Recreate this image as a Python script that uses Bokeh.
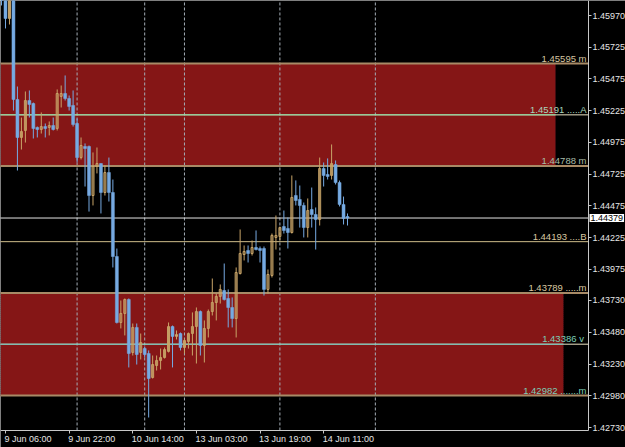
import numpy as np
from bokeh.plotting import figure
from bokeh.models import (ColumnDataSource, Range1d, FixedTicker, PrintfTickFormatter,
                          BoxAnnotation, Label, LinearAxis)
from bokeh.core.properties import value
from bokeh.embed import file_html
from bokeh.resources import INLINE

# ---------------- data (H1 candles) ----------------
bar = list(range(-1, 87))
open_ = [1.46327, 1.46154, 1.45949, 1.46170, 1.45312, 1.45013, 1.45068, 1.45304, 1.45280, 1.45092,
         1.45076, 1.45099, 1.45092, 1.45107, 1.45084, 1.45336, 1.45359, 1.45320, 1.45265, 1.45123,
         1.44855, 1.44942, 1.44942, 1.44556, 1.44785, 1.44808, 1.44580, 1.44737, 1.44580, 1.44076,
         1.43557, 1.43628, 1.43738, 1.43321, 1.43518, 1.43321, 1.43352, 1.43313, 1.43124, 1.43218,
         1.43258, 1.43281, 1.43329, 1.43525, 1.43447, 1.43470, 1.43360, 1.43407, 1.43470, 1.43525,
         1.43643, 1.43376, 1.43510, 1.43643, 1.43714, 1.43762, 1.43809, 1.43746, 1.43675, 1.43588,
         1.43942, 1.44092, 1.44124, 1.44100, 1.44147, 1.44139, 1.44139, 1.43817, 1.43927, 1.44226,
         1.44234, 1.44312, 1.44297, 1.44265, 1.44556, 1.44525, 1.44478, 1.44304, 1.44446, 1.44407,
         1.44367, 1.44769, 1.44722, 1.44714, 1.44800, 1.44658, 1.44486, 1.44391]
high = [1.46406, 1.46185, 1.46209, 1.46201, 1.45414, 1.45170, 1.45375, 1.45383, 1.45288, 1.45099,
        1.45210, 1.45123, 1.45139, 1.45170, 1.45391, 1.45422, 1.45501, 1.45343, 1.45383, 1.45162,
        1.45013, 1.44966, 1.44950, 1.44895, 1.44934, 1.44808, 1.44792, 1.44855, 1.44682, 1.44139,
        1.43730, 1.43746, 1.43746, 1.43549, 1.43549, 1.43470, 1.43368, 1.43337, 1.43297, 1.43297,
        1.43352, 1.43360, 1.43557, 1.43533, 1.43494, 1.43478, 1.43431, 1.43478, 1.43636, 1.43675,
        1.43651, 1.43573, 1.43659, 1.43903, 1.43785, 1.43856, 1.44021, 1.43817, 1.43754, 1.43990,
        1.44289, 1.44163, 1.44163, 1.44202, 1.44281, 1.44155, 1.44155, 1.43974, 1.44257, 1.44399,
        1.44312, 1.44438, 1.44383, 1.44714, 1.44675, 1.44635, 1.44501, 1.44533, 1.44619, 1.44462,
        1.44855, 1.44816, 1.44848, 1.44958, 1.44832, 1.44674, 1.44548, 1.44415]
low = [1.46052, 1.45871, 1.45902, 1.45225, 1.44753, 1.44918, 1.44973, 1.45170, 1.45005, 1.45013,
       1.45044, 1.45013, 1.45029, 1.45068, 1.45068, 1.45249, 1.45304, 1.45225, 1.45099, 1.44816,
       1.44840, 1.44627, 1.44430, 1.44478, 1.44730, 1.44415, 1.44556, 1.44509, 1.43990, 1.43549,
       1.43510, 1.43455, 1.43203, 1.43297, 1.43226, 1.43266, 1.43281, 1.42809, 1.43116, 1.43179,
       1.43187, 1.43273, 1.43321, 1.43203, 1.43423, 1.43337, 1.43313, 1.43352, 1.43297, 1.43234,
       1.43297, 1.43242, 1.43439, 1.43612, 1.43573, 1.43706, 1.43730, 1.43518, 1.43518, 1.43439,
       1.43935, 1.44045, 1.44029, 1.44084, 1.44124, 1.44029, 1.43769, 1.43785, 1.43911, 1.44131,
       1.44202, 1.44257, 1.44139, 1.44257, 1.44478, 1.44304, 1.44226, 1.44226, 1.44304, 1.44131,
       1.44320, 1.44627, 1.44682, 1.44682, 1.44643, 1.44470, 1.44328, 1.44320]
close = [1.46154, 1.45949, 1.46170, 1.45312, 1.45013, 1.45060, 1.45304, 1.45273, 1.45084, 1.45076,
         1.45099, 1.45084, 1.45107, 1.45076, 1.45359, 1.45359, 1.45320, 1.45257, 1.45115, 1.44855,
         1.44950, 1.44926, 1.44556, 1.44785, 1.44808, 1.44580, 1.44737, 1.44580, 1.44076, 1.43557,
         1.43628, 1.43738, 1.43313, 1.43518, 1.43305, 1.43399, 1.43305, 1.43116, 1.43226, 1.43258,
         1.43281, 1.43344, 1.43525, 1.43447, 1.43462, 1.43360, 1.43415, 1.43470, 1.43525, 1.43643,
         1.43376, 1.43510, 1.43643, 1.43714, 1.43762, 1.43817, 1.43738, 1.43675, 1.43588, 1.43950,
         1.44100, 1.44116, 1.44100, 1.44147, 1.44131, 1.44124, 1.43817, 1.43935, 1.44242, 1.44242,
         1.44304, 1.44281, 1.44265, 1.44541, 1.44517, 1.44478, 1.44304, 1.44438, 1.44407, 1.44367,
         1.44769, 1.44714, 1.44706, 1.44808, 1.44658, 1.44486, 1.44375, 1.44379]

time_tick_bars = [0, 16, 32, 48, 64, 80]
time_tick_labels = ["9 Jun 06:00", "9 Jun 22:00", "10 Jun 14:00",
                    "13 Jun 03:00", "13 Jun 19:00", "14 Jun 11:00"]
separator_bars = [18, 35, 45, 69, 93]

price_ticks = [1.45970, 1.45725, 1.45475, 1.45225, 1.44975, 1.44725, 1.44475,
               1.44225, 1.43975, 1.43730, 1.43480, 1.43230, 1.42980, 1.42730]

zone_top = [1.45595, 1.43789]
zone_bottom = [1.44788, 1.42982]
zone_end_bar = [138.3, 140.3]
zone_mid = [1.45191, 1.43386]
zone_mid_colors = ["#7ee0a2", "#62c8c0"]

bid = 1.44379

line_levels = [1.45595, 1.44788, 1.43789, 1.42982, 1.45191, 1.43386, 1.44193, 1.44379]
line_colors = ["#a88a66", "#a88a66", "#a88a66", "#a88a66",
               "#ece4c4", "#ece4c4", "#cfbd8a", "#e4e4e4"]
line_widths = [2, 2, 2, 2, 1, 1, 1, 1]

level_values = [1.45595, 1.45191, 1.44788, 1.44193, 1.43789, 1.43386, 1.42982]
level_texts = ["1.45595 m", "1.45191 .....A", "1.44788 m", "1.44193 ....B",
               "1.43789 .....m", "1.43386  v", "1.42982 .......m"]
level_text_colors = ["#d4c4a0", "#a8d4bc", "#a8bca8", "#d8c8a0",
                     "#d8c8a0", "#7ccfb8", "#7ccfb8"]

# ---------------- view / styling ----------------
FONT = "Liberation Sans"
BULL = "#c8a468"
BEAR = "#76aae2"
ZONE = "#851616"
AXC = "#c8c8c8"

x_start, x_end = -1.257, 155.9        # visible bar range
y_bottom, y_top = 1.42573, 1.46091    # visible price range
axis_bar = 146.6                      # where the price scale sits
axis_price = 1.42707                  # where the time scale sits

p = figure(width=625, height=447, output_backend="svg", toolbar_location=None,
           x_range=Range1d(x_start, x_end), y_range=Range1d(y_bottom, y_top),
           x_axis_location=None, y_axis_location=None,
           min_border_left=0, min_border_top=0, min_border_right=0, min_border_bottom=0,
           background_fill_color="#000000", border_fill_color="#000000",
           outline_line_color=None)
p.grid.visible = False

# zones
for t, b, r in zip(zone_top, zone_bottom, zone_end_bar):
    p.add_layout(BoxAnnotation(top=t, bottom=b, right=r, fill_color=ZONE, fill_alpha=1.0,
                               line_color="#4a1838", line_width=1, line_dash="1 1",
                               level="underlay"))

# vertical dotted separators (stop at the time scale)
n = len(separator_bars)
p.segment(x0=separator_bars, x1=separator_bars, y0=[axis_price] * n, y1=[y_top] * n,
          line_color="#a4adb6", line_dash="3 2", line_width=1)

# horizontal level lines (stop at the price scale)
m = len(line_levels)
p.segment(x0=[x_start - 5] * m, x1=[axis_bar] * m, y0=line_levels, y1=line_levels,
          line_color=line_colors, line_width=line_widths)

# coloured mid lines inside zones
p.segment(x0=[x_start - 5] * 2, x1=zone_end_bar, y0=zone_mid, y1=zone_mid,
          line_color=zone_mid_colors, line_width=1)

# candles
o = np.array(open_); c = np.array(close)
up = c >= o
src = ColumnDataSource(dict(x=bar, high=high, low=low,
                            color=[BULL if u else BEAR for u in up]))
p.segment(x0="x", x1="x", y0="high", y1="low", line_color="color", line_width=1, source=src)

bull_idx = [i for i, u in enumerate(up) if u]
bear_idx = [i for i, u in enumerate(up) if not u]
bull_src = ColumnDataSource(dict(x=[bar[i] for i in bull_idx],
                                 top=[max(open_[i], close[i]) for i in bull_idx],
                                 bottom=[min(open_[i], close[i]) for i in bull_idx]))
bear_src = ColumnDataSource(dict(x=[bar[i] for i in bear_idx],
                                 top=[max(open_[i], close[i]) for i in bear_idx],
                                 bottom=[min(open_[i], close[i]) for i in bear_idx]))
p.vbar(x="x", top="top", bottom="bottom", width=0.5, fill_color="#000000", fill_alpha=0.0,
       line_color=BULL, line_width=1, source=bull_src)
p.vbar(x="x", top="top", bottom="bottom", width=0.75, fill_color=BEAR,
       line_color=BEAR, line_width=0.5, source=bear_src)

# level labels
p.text(x=[axis_bar] * len(level_values), y=level_values, text=level_texts,
       text_color=level_text_colors, text_align="right", text_baseline="bottom",
       x_offset=-2, y_offset=0, text_font=value(FONT), text_font_size="9.5px")

# axes (price scale on the right, time scale at the bottom)
yax = LinearAxis(fixed_location=axis_bar, bounds=(axis_price, y_top),
                 ticker=FixedTicker(ticks=price_ticks),
                 formatter=PrintfTickFormatter(format="%.5f"))
p.add_layout(yax, "right")
xax = LinearAxis(fixed_location=axis_price, bounds=(x_start - 5, axis_bar),
                 ticker=FixedTicker(ticks=time_tick_bars),
                 major_label_overrides={t: "" for t in time_tick_bars})
p.add_layout(xax, "below")
for ax in (xax, yax):
    ax.axis_line_color = AXC
    ax.major_tick_line_color = AXC
    ax.minor_tick_line_color = None
    ax.major_tick_in = 0
    ax.major_tick_out = 3
    ax.major_label_standoff = 1
    ax.major_label_text_color = "#e6e6e6"
    ax.major_label_text_font = FONT
    ax.major_label_text_font_size = "9px"

# time labels, left-aligned at their ticks
p.text(x=time_tick_bars, y=[axis_price] * len(time_tick_bars), text=time_tick_labels,
       text_color="#e6e6e6", text_align="left", text_baseline="top",
       x_offset=-1, y_offset=4, text_font=value(FONT), text_font_size="9px")

# current price box on the price scale
p.add_layout(Label(x=axis_bar, y=bid, text="%.5f" % bid, x_offset=1, y_offset=0,
                   text_align="left", text_baseline="middle", text_color="#000000",
                   text_font=FONT, text_font_size="9px",
                   background_fill_color="#ffffff", background_fill_alpha=1.0,
                   padding=1))

open("out.html", "w").write(file_html(p, INLINE))
